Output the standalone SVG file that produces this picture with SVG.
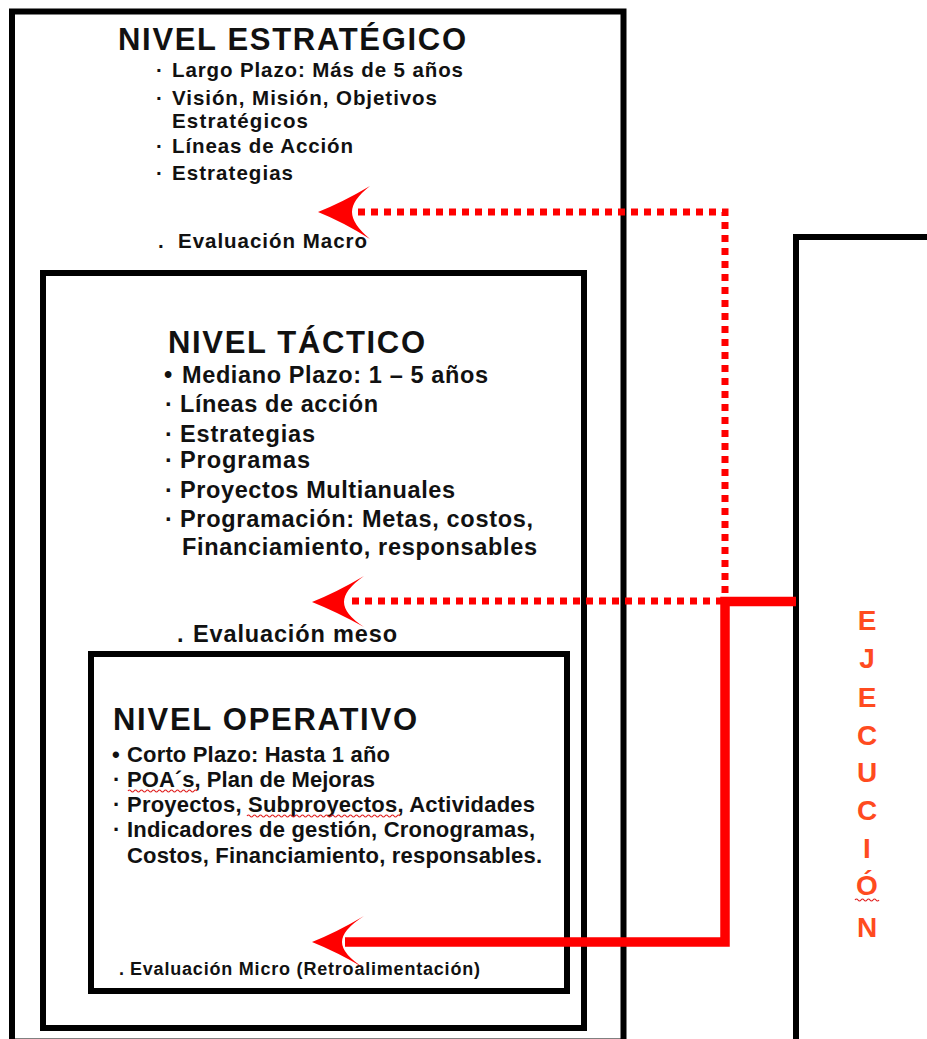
<svg xmlns="http://www.w3.org/2000/svg" width="927" height="1039" viewBox="0 0 927 1039">
  <style>
    .box { fill: none; stroke: #000; stroke-width: 6; }
    .t { font-family: "Liberation Sans", Arial, sans-serif; font-weight: bold; fill: #111; }
    .h { font-size: 31px; }
    .s1 { font-size: 20.5px; }
    .s2 { font-size: 23.5px; }
    .s3 { font-size: 22px; }
    .s4 { font-size: 18px; }
    .ej { font-family: "Liberation Sans", Arial, sans-serif; font-weight: bold; font-size: 28px; fill: #ff4b1f; text-anchor: middle; }
    .dot { fill: none; stroke: #ff0000; stroke-width: 7; stroke-dasharray: 7 6; }
    .solid { fill: none; stroke: #ff0000; stroke-width: 9.5; }
    .head { fill: #ff0000; }
    .wavy { fill: none; stroke: #e02020; stroke-width: 1.2; }
  </style>
  <rect width="927" height="1039" fill="#fff"/>

  <!-- Strategic level -->
  <g id="nivel-estrategico">
    <rect class="box" x="12" y="11.5" width="611.5" height="1030"/>
    <text class="t h" x="118" y="50" textLength="348">NIVEL ESTRATÉGICO</text>
    <text class="t s1" x="156" y="77">·</text>
    <text class="t s1" x="172" y="77" textLength="291">Largo Plazo: Más de 5 años</text>
    <text class="t s1" x="156" y="105">·</text>
    <text class="t s1" x="172" y="105" textLength="265">Visión, Misión, Objetivos</text>
    <text class="t s1" x="172" y="128" textLength="136">Estratégicos</text>
    <text class="t s1" x="156" y="153">·</text>
    <text class="t s1" x="172" y="153" textLength="181">Líneas de Acción</text>
    <text class="t s1" x="156" y="180">·</text>
    <text class="t s1" x="172" y="180" textLength="121">Estrategias</text>
    <text class="t s1" x="158" y="248">.</text>
    <text class="t s1" x="178" y="248" textLength="189">Evaluación Macro</text>
  </g>

  <!-- Tactical level -->
  <g id="nivel-tactico">
    <rect class="box" x="43" y="273" width="541" height="755"/>
    <text class="t h" x="168" y="353" textLength="257">NIVEL TÁCTICO</text>
    <text class="t s2" x="164" y="383">•</text>
    <text class="t s2" x="182" y="383" textLength="306">Mediano Plazo: 1 – 5 años</text>
    <text class="t s2" x="165" y="412">·</text>
    <text class="t s2" x="180" y="412" textLength="198">Líneas de acción</text>
    <text class="t s2" x="165" y="442">·</text>
    <text class="t s2" x="180" y="442" textLength="135">Estrategias</text>
    <text class="t s2" x="165" y="468">·</text>
    <text class="t s2" x="180" y="468" textLength="130">Programas</text>
    <text class="t s2" x="165" y="498">·</text>
    <text class="t s2" x="180" y="498" textLength="275">Proyectos Multianuales</text>
    <text class="t s2" x="165" y="527">·</text>
    <text class="t s2" x="180" y="527" textLength="353">Programación: Metas, costos,</text>
    <text class="t s2" x="182" y="555" textLength="355">Financiamiento, responsables</text>
    <text class="t s2" x="177" y="642">.</text>
    <text class="t s2" x="193" y="642" textLength="204">Evaluación meso</text>
  </g>

  <!-- Operational level -->
  <g id="nivel-operativo">
    <rect class="box" x="91" y="654" width="476" height="337"/>
    <text class="t h" x="113" y="730" textLength="304">NIVEL OPERATIVO</text>
    <text class="t s3" x="112" y="762">•</text>
    <text class="t s3" x="127" y="762" textLength="263">Corto Plazo: Hasta 1 año</text>
    <text class="t s3" x="113" y="787">·</text>
    <text class="t s3" x="127" y="787" textLength="248">POA´s, Plan de Mejoras</text>
    <text class="t s3" x="113" y="812">·</text>
    <text class="t s3" x="127" y="812" textLength="408">Proyectos, Subproyectos, Actividades</text>
    <text class="t s3" x="113" y="837">·</text>
    <text class="t s3" x="127" y="837" textLength="408">Indicadores de gestión, Cronogramas,</text>
    <text class="t s3" x="127" y="863" textLength="415">Costos, Financiamiento, responsables.</text>
    <text class="t s4" x="119" y="975">.</text>
    <text class="t s4" x="130" y="975" textLength="350">Evaluación Micro (Retroalimentación)</text>
    <!-- spell-check squiggles -->
    <path class="wavy" d="M128,791 q1.5,-2 3,0 t3,0 t3,0 t3,0 t3,0 t3,0 t3,0 t3,0 t3,0 t3,0 t3,0 t3,0 t3,0 t3,0 t3,0 t3,0 t3,0 t3,0 t3,0 t3,0 t3,0 t3,0 t3,0"/>
    <path class="wavy" d="M247,816 q1.5,-2 3,0 t3,0 t3,0 t3,0 t3,0 t3,0 t3,0 t3,0 t3,0 t3,0 t3,0 t3,0 t3,0 t3,0 t3,0 t3,0 t3,0 t3,0 t3,0 t3,0 t3,0 t3,0 t3,0 t3,0 t3,0 t3,0 t3,0 t3,0 t3,0 t3,0 t3,0 t3,0 t3,0 t3,0 t3,0 t3,0 t3,0 t3,0 t3,0 t3,0 t3,0 t3,0 t3,0 t3,0 t3,0 t3,0 t3,0 t3,0 t3,0 t3,0 t3,0"/>
  </g>

  <!-- Execution -->
  <g id="ejecucion">
    <path class="box" d="M796,1045 V237 H935"/>
    <text class="ej" x="867" y="630">E</text>
    <text class="ej" x="867" y="668">J</text>
    <text class="ej" x="867" y="707">E</text>
    <text class="ej" x="867" y="745">C</text>
    <text class="ej" x="867" y="782">U</text>
    <text class="ej" x="867" y="820">C</text>
    <text class="ej" x="867" y="858">I</text>
    <text class="ej" x="867" y="895">Ó</text>
    <text class="ej" x="867" y="937">N</text>
    <path class="wavy" d="M855,900 q1.5,-2 3,0 t3,0 t3,0 t3,0 t3,0 t3,0 t3,0 t3,0"/>
  </g>

  <!-- Feedback connectors -->
  <g id="connectors">
    <path class="dot" d="M358,212 H725 V598"/>
    <path class="dot" d="M352,601 H725"/>
    <path class="solid" d="M796,601.5 H725 V942 H345"/>
    <path class="head" d="M318,212 Q343,202 370,186 Q352,200 352,212 Q352,224 370,239 Q343,222 318,212 Z"/>
    <path class="head" d="M312,602 Q337,592 364,576 Q344,590 344,602 Q344,614 364,627 Q337,612 312,602 Z"/>
    <path class="head" d="M312,942 Q337,932 364,916 Q342,930 342,942 Q342,954 364,968 Q337,952 312,942 Z"/>
  </g>
</svg>
